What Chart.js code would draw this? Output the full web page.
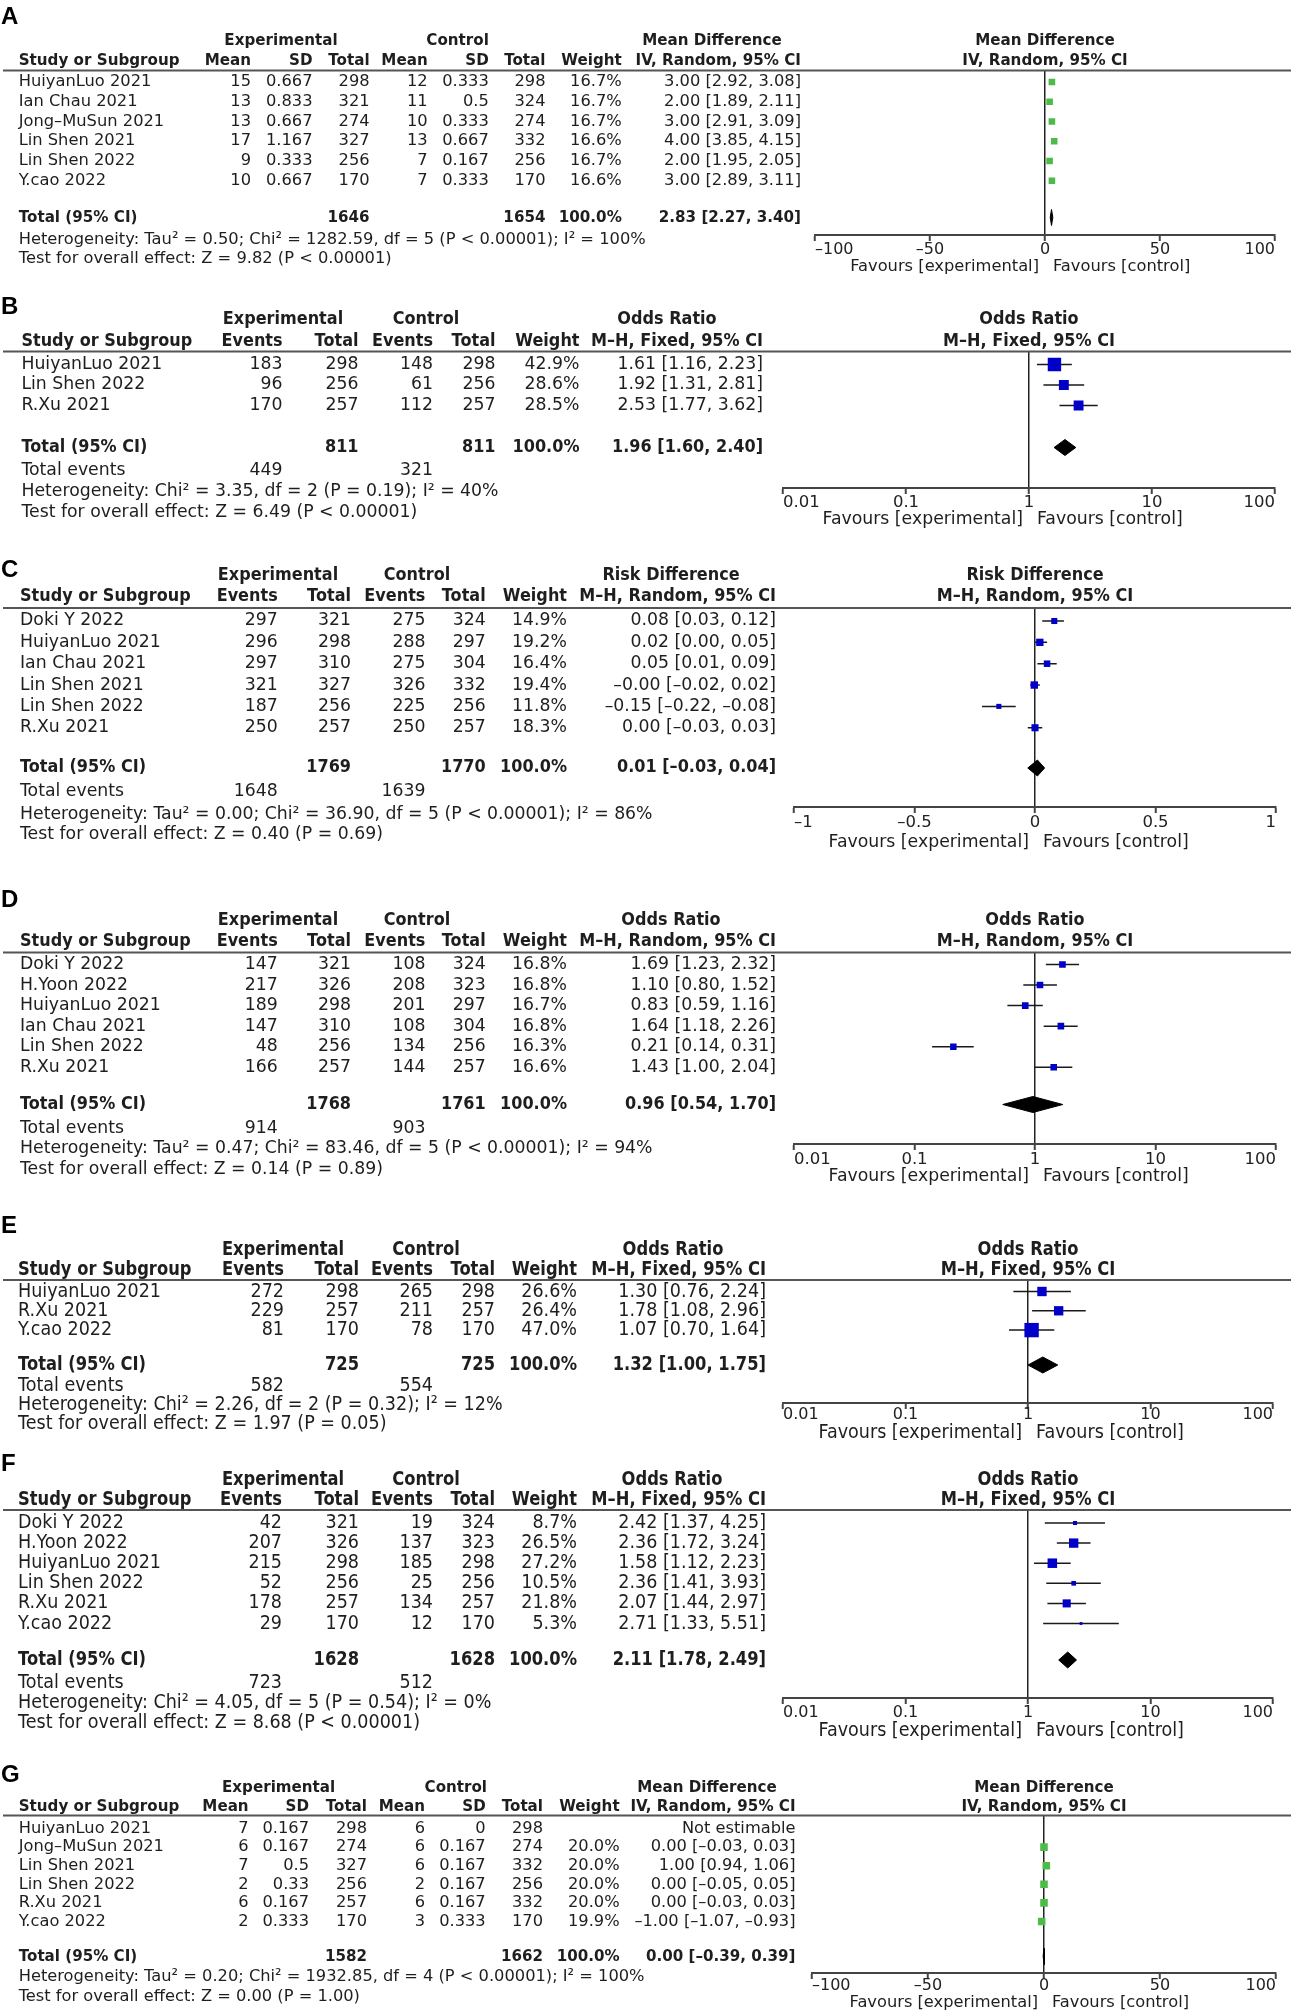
<!DOCTYPE html>
<html lang="en">
<head>
<meta charset="UTF-8">
<title>Forest plots A–G</title>
<script src="https://cdn.jsdelivr.net/npm/chart.js@4"></script>
<style>
  body { margin: 0; background: #fff; }
  #page { position: relative; width: 1299px; height: 2010px; background: #fff; overflow: hidden; }
  #page canvas { position: absolute; left: 0; }
</style>
</head>
<body>
<div id="page"></div>
<script>
// ---- tick labels ----
const mdTicks = [-100, -50, 0, 50, 100];
const orTicks = [0.01, 0.1, 1, 10, 100];
const rdTicks = [-1, -0.5, 0, 0.5, 1];

// ---- A: mean difference, IV random ----
const aStudy = ['HuiyanLuo 2021', 'Ian Chau 2021', 'Jong–MuSun 2021', 'Lin Shen 2021', 'Lin Shen 2022', 'Y.cao 2022'];
const aExpMean = [15, 13, 13, 17, 9, 10];
const aExpSD = [0.667, 0.833, 0.667, 1.167, 0.333, 0.667];
const aExpN = [298, 321, 274, 327, 256, 170];
const aCtlMean = [12, 11, 10, 13, 7, 7];
const aCtlSD = [0.333, 0.5, 0.333, 0.667, 0.167, 0.333];
const aCtlN = [298, 324, 274, 332, 256, 170];
const aWeight = [16.7, 16.7, 16.7, 16.6, 16.7, 16.6];
const aEst = [3.00, 2.00, 3.00, 4.00, 2.00, 3.00];
const aLo = [2.92, 1.89, 2.91, 3.85, 1.95, 2.89];
const aHi = [3.08, 2.11, 3.09, 4.15, 2.05, 3.11];
const aSums = [1646, 1654];
const aPooled = [2.83, 2.27, 3.40];
const aHet = 'Heterogeneity: Tau² = 0.50; Chi² = 1282.59, df = 5 (P < 0.00001); I² = 100%';
const aTest = 'Test for overall effect: Z = 9.82 (P < 0.00001)';

// ---- B: odds ratio, M-H fixed ----
const bStudy = ['HuiyanLuo 2021', 'Lin Shen 2022', 'R.Xu 2021'];
const bExpEv = [183, 96, 170];
const bExpN = [298, 256, 257];
const bCtlEv = [148, 61, 112];
const bCtlN = [298, 256, 257];
const bWeight = [42.9, 28.6, 28.5];
const bEst = [1.61, 1.92, 2.53];
const bLo = [1.16, 1.31, 1.77];
const bHi = [2.23, 2.81, 3.62];
const bSums = [811, 811];
const bEvents = [449, 321];
const bPooled = [1.96, 1.60, 2.40];
const bHet = 'Heterogeneity: Chi² = 3.35, df = 2 (P = 0.19); I² = 40%';
const bTest = 'Test for overall effect: Z = 6.49 (P < 0.00001)';

// ---- C: risk difference, M-H random ----
const cStudy = ['Doki Y 2022', 'HuiyanLuo 2021', 'Ian Chau 2021', 'Lin Shen 2021', 'Lin Shen 2022', 'R.Xu 2021'];
const cExpEv = [297, 296, 297, 321, 187, 250];
const cExpN = [321, 298, 310, 327, 256, 257];
const cCtlEv = [275, 288, 275, 326, 225, 250];
const cCtlN = [324, 297, 304, 332, 256, 257];
const cWeight = [14.9, 19.2, 16.4, 19.4, 11.8, 18.3];
const cEst = [0.08, 0.02, 0.05, -0.003, -0.15, 0.00];
const cLo = [0.03, 0.00, 0.01, -0.02, -0.22, -0.03];
const cHi = [0.12, 0.05, 0.09, 0.02, -0.08, 0.03];
const cSums = [1769, 1770];
const cEvents = [1648, 1639];
const cPooled = [0.01, -0.03, 0.04];
const cHet = 'Heterogeneity: Tau² = 0.00; Chi² = 36.90, df = 5 (P < 0.00001); I² = 86%';
const cTest = 'Test for overall effect: Z = 0.40 (P = 0.69)';

// ---- D: odds ratio, M-H random ----
const dStudy = ['Doki Y 2022', 'H.Yoon 2022', 'HuiyanLuo 2021', 'Ian Chau 2021', 'Lin Shen 2022', 'R.Xu 2021'];
const dExpEv = [147, 217, 189, 147, 48, 166];
const dExpN = [321, 326, 298, 310, 256, 257];
const dCtlEv = [108, 208, 201, 108, 134, 144];
const dCtlN = [324, 323, 297, 304, 256, 257];
const dWeight = [16.8, 16.8, 16.7, 16.8, 16.3, 16.6];
const dEst = [1.69, 1.10, 0.83, 1.64, 0.21, 1.43];
const dLo = [1.23, 0.80, 0.59, 1.18, 0.14, 1.00];
const dHi = [2.32, 1.52, 1.16, 2.26, 0.31, 2.04];
const dSums = [1768, 1761];
const dEvents = [914, 903];
const dPooled = [0.96, 0.54, 1.70];
const dHet = 'Heterogeneity: Tau² = 0.47; Chi² = 83.46, df = 5 (P < 0.00001); I² = 94%';
const dTest = 'Test for overall effect: Z = 0.14 (P = 0.89)';

// ---- E: odds ratio, M-H fixed ----
const eStudy = ['HuiyanLuo 2021', 'R.Xu 2021', 'Y.cao 2022'];
const eExpEv = [272, 229, 81];
const eExpN = [298, 257, 170];
const eCtlEv = [265, 211, 78];
const eCtlN = [298, 257, 170];
const eWeight = [26.6, 26.4, 47.0];
const eEst = [1.30, 1.78, 1.07];
const eLo = [0.76, 1.08, 0.70];
const eHi = [2.24, 2.96, 1.64];
const eSums = [725, 725];
const eEvents = [582, 554];
const ePooled = [1.32, 1.00, 1.75];
const eHet = 'Heterogeneity: Chi² = 2.26, df = 2 (P = 0.32); I² = 12%';
const eTest = 'Test for overall effect: Z = 1.97 (P = 0.05)';

// ---- F: odds ratio, M-H fixed ----
const fStudy = ['Doki Y 2022', 'H.Yoon 2022', 'HuiyanLuo 2021', 'Lin Shen 2022', 'R.Xu 2021', 'Y.cao 2022'];
const fExpEv = [42, 207, 215, 52, 178, 29];
const fExpN = [321, 326, 298, 256, 257, 170];
const fCtlEv = [19, 137, 185, 25, 134, 12];
const fCtlN = [324, 323, 298, 256, 257, 170];
const fWeight = [8.7, 26.5, 27.2, 10.5, 21.8, 5.3];
const fEst = [2.42, 2.36, 1.58, 2.36, 2.07, 2.71];
const fLo = [1.37, 1.72, 1.12, 1.41, 1.44, 1.33];
const fHi = [4.25, 3.24, 2.23, 3.93, 2.97, 5.51];
const fSums = [1628, 1628];
const fEvents = [723, 512];
const fPooled = [2.11, 1.78, 2.49];
const fHet = 'Heterogeneity: Chi² = 4.05, df = 5 (P = 0.54); I² = 0%';
const fTest = 'Test for overall effect: Z = 8.68 (P < 0.00001)';

// ---- G: mean difference, IV random ----
const gStudy = ['HuiyanLuo 2021', 'Jong–MuSun 2021', 'Lin Shen 2021', 'Lin Shen 2022', 'R.Xu 2021', 'Y.cao 2022'];
const gExpMean = [7, 6, 7, 2, 6, 2];
const gExpSD = [0.167, 0.167, 0.5, 0.33, 0.167, 0.333];
const gExpN = [298, 274, 327, 256, 257, 170];
const gCtlMean = [6, 6, 6, 2, 6, 3];
const gCtlSD = [0, 0.167, 0.167, 0.167, 0.167, 0.333];
const gCtlN = [298, 274, 332, 256, 332, 170];
const gWeight = [null, 20.0, 20.0, 20.0, 20.0, 19.9];
const gEst = [null, 0.00, 1.00, 0.00, 0.00, -1.00];
const gLo = [null, -0.03, 0.94, -0.05, -0.03, -1.07];
const gHi = [null, 0.03, 1.06, 0.05, 0.03, -0.93];
const gSums = [1582, 1662];
const gPooled = [0.00, -0.39, 0.39];
const gHet = 'Heterogeneity: Tau² = 0.20; Chi² = 1932.85, df = 4 (P < 0.00001); I² = 100%';
const gTest = 'Test for overall effect: Z = 0.00 (P = 1.00)';

Chart.defaults.font.family = '"DejaVu Sans", sans-serif';
Chart.defaults.color = '#222';

const W = 1299;
const GREEN = '#4cbb47', BLUE = '#0000c8';
const BOLD_SQUEEZE = 0.93; // DejaVu bold runs wider than the original bold face
const mdHdr = ['Mean', 'SD', 'Total', 'Mean', 'SD', 'Total'];
const dHdr = ['Events', 'Total', 'Events', 'Total'];
const mdCols = [251, 312.5, 369.6, 427.7, 488.8, 545.5];
const dCols = [282.6, 358.5, 433, 495.5];
const dCols2 = [277.7, 351, 425.4, 485.7];

const panels = [
  { id: 'A', top: 0, h: 290, font: 16.3, squeeze: 1, tickFont: 16,
    study: aStudy, cols: [aExpMean, aExpSD, aExpN, aCtlMean, aCtlSD, aCtlN], hdrs: mdHdr, nIdx: [2, 5],
    weight: aWeight, est: aEst, lo: aLo, hi: aHi, sums: aSums, events: null, pooled: aPooled, het: aHet, test: aTest,
    effName: 'Mean Difference', method: 'IV, Random, 95% CI', scale: 'linear', ticks: mdTicks, ref: 0, mark: GREEN,
    lay: { label: 17, hdr1: 40.5, hdr2: 60.5, line: 70.5, row0: 82, gap: 19.75, total: 217.5, events: null, het: 239.5, test: 258.5,
           axis: 235, fav: 266.5, tickPad: -1, axL: 815, axR: 1275, studyX: 18.7, colX: mdCols, wX: 621.8, effX: 801,
           expC: 281, ctlC: 457.6, effC: 712 } },
  { id: 'B', top: 290, h: 260, font: 17.3, squeeze: 1, tickFont: 16.5,
    study: bStudy, cols: [bExpEv, bExpN, bCtlEv, bCtlN], hdrs: dHdr, nIdx: [1, 3],
    weight: bWeight, est: bEst, lo: bLo, hi: bHi, sums: bSums, events: bEvents, pooled: bPooled, het: bHet, test: bTest,
    effName: 'Odds Ratio', method: 'M–H, Fixed, 95% CI', scale: 'logarithmic', ticks: orTicks, ref: 1, mark: BLUE,
    lay: { label: 17, hdr1: 29.5, hdr2: 51.5, line: 61.5, row0: 74.5, gap: 20.5, total: 157.5, events: 180.5, het: 202, test: 222.5,
           axis: 198, fav: 230, tickPad: -1, axL: 783, axR: 1275, studyX: 21.4, colX: dCols, wX: 579.5, effX: 763,
           expC: 283, ctlC: 426, effC: 667 } },
  { id: 'C', top: 550, h: 330, font: 17.3, squeeze: 1, tickFont: 16.5,
    study: cStudy, cols: [cExpEv, cExpN, cCtlEv, cCtlN], hdrs: dHdr, nIdx: [1, 3],
    weight: cWeight, est: cEst, lo: cLo, hi: cHi, sums: cSums, events: cEvents, pooled: cPooled, het: cHet, test: cTest,
    effName: 'Risk Difference', method: 'M–H, Random, 95% CI', scale: 'linear', ticks: rdTicks, ref: 0, mark: BLUE,
    lay: { label: 20, hdr1: 26, hdr2: 47, line: 58, row0: 71, gap: 21.35, total: 218, events: 241.5, het: 264.5, test: 284.5,
           axis: 257, fav: 293, tickPad: 0, axL: 794, axR: 1276, studyX: 20, colX: dCols2, wX: 567, effX: 776,
           expC: 278, ctlC: 417, effC: 671 } },
  { id: 'D', top: 880, h: 330, font: 17.3, squeeze: 1, tickFont: 16.5,
    study: dStudy, cols: [dExpEv, dExpN, dCtlEv, dCtlN], hdrs: dHdr, nIdx: [1, 3],
    weight: dWeight, est: dEst, lo: dLo, hi: dHi, sums: dSums, events: dEvents, pooled: dPooled, het: dHet, test: dTest,
    effName: 'Odds Ratio', method: 'M–H, Random, 95% CI', scale: 'logarithmic', ticks: orTicks, ref: 1, mark: BLUE,
    lay: { label: 20, hdr1: 40.5, hdr2: 61.5, line: 72.5, row0: 84.5, gap: 20.55, total: 224.5, events: 248.5, het: 268.5, test: 289.5,
           axis: 264, fav: 297, tickPad: 0, axL: 794, axR: 1276, studyX: 20, colX: dCols2, wX: 567, effX: 776,
           expC: 278, ctlC: 417, effC: 671 } },
  { id: 'E', top: 1210, h: 230, font: 19.5, squeeze: 0.9, tickFont: 16,
    study: eStudy, cols: [eExpEv, eExpN, eCtlEv, eCtlN], hdrs: dHdr, nIdx: [1, 3],
    weight: eWeight, est: eEst, lo: eLo, hi: eHi, sums: eSums, events: eEvents, pooled: ePooled, het: eHet, test: eTest,
    effName: 'Odds Ratio', method: 'M–H, Fixed, 95% CI', scale: 'logarithmic', ticks: orTicks, ref: 1, mark: BLUE,
    lay: { label: 16, hdr1: 40, hdr2: 60, line: 70, row0: 81.5, gap: 19.3, total: 155, events: 176, het: 195, test: 214,
           axis: 193, fav: 223, tickPad: -4, axL: 783, axR: 1273, studyX: 18, colX: [284, 359, 433, 495], wX: 577, effX: 766,
           expC: 283, ctlC: 426, effC: 673 } },
  { id: 'F', top: 1440, h: 320, font: 19.5, squeeze: 0.9, tickFont: 16,
    study: fStudy, cols: [fExpEv, fExpN, fCtlEv, fCtlN], hdrs: dHdr, nIdx: [1, 3],
    weight: fWeight, est: fEst, lo: fLo, hi: fHi, sums: fSums, events: fEvents, pooled: fPooled, het: fHet, test: fTest,
    effName: 'Odds Ratio', method: 'M–H, Fixed, 95% CI', scale: 'logarithmic', ticks: orTicks, ref: 1, mark: BLUE,
    lay: { label: 24, hdr1: 40, hdr2: 60, line: 70, row0: 83, gap: 20.1, total: 220, events: 243, het: 263, test: 283,
           axis: 258, fav: 291, tickPad: -1, axL: 783, axR: 1273, studyX: 18, colX: [282, 359, 433, 495], wX: 577, effX: 766,
           expC: 283, ctlC: 426, effC: 672 } },
  { id: 'G', top: 1760, h: 250, font: 16.25, squeeze: 1, tickFont: 16,
    study: gStudy, cols: [gExpMean, gExpSD, gExpN, gCtlMean, gCtlSD, gCtlN], hdrs: mdHdr, nIdx: [2, 5],
    weight: gWeight, est: gEst, lo: gLo, hi: gHi, sums: gSums, events: null, pooled: gPooled, het: gHet, test: gTest,
    effName: 'Mean Difference', method: 'IV, Random, 95% CI', scale: 'linear', ticks: mdTicks, ref: 0, mark: GREEN,
    lay: { label: 15, hdr1: 27.5, hdr2: 46.5, line: 55.5, row0: 68.5, gap: 18.6, total: 196.5, events: null, het: 216.5, test: 236.5,
           axis: 213, fav: 242.5, tickPad: -2.5, axL: 812, axR: 1276, studyX: 18.7, colX: [248.6, 309, 367, 425, 485.7, 543], wX: 619.6, effX: 795.5,
           expC: 278.6, ctlC: 455.8, effC: 707 } }
];

const fmt = v => v.toFixed(2).replace('-', '–');
const effText = (e, l, h) => e == null ? 'Not estimable' : fmt(e) + ' [' + fmt(l) + ', ' + fmt(h) + ']';
const pct = w => w == null ? '' : w.toFixed(1) + '%';

function drawTable(chart, P) {
  const ctx = chart.ctx, L = P.lay, xs = chart.scales.x, ys = chart.scales.y;
  const t = (s, x, y, align, bold) => {
    ctx.save();
    ctx.font = (bold ? 'bold ' : '') + P.font + 'px "DejaVu Sans"';
    ctx.fillStyle = '#1e1e1e';
    ctx.textAlign = align;
    ctx.textBaseline = 'middle';
    ctx.translate(x, y);
    ctx.scale(P.squeeze * (bold ? BOLD_SQUEEZE : 1), 1);
    ctx.fillText(s, 0, 0);
    ctx.restore();
  };
  // panel letter
  ctx.save();
  ctx.font = 'bold 24px "Liberation Sans"';
  ctx.fillStyle = '#000';
  ctx.textBaseline = 'middle';
  ctx.fillText(P.id, 1, L.label);
  ctx.restore();

  const zero = xs.getPixelForValue(P.ref);
  t('Experimental', L.expC, L.hdr1, 'center', true);
  t('Control', L.ctlC, L.hdr1, 'center', true);
  t(P.effName, L.effC, L.hdr1, 'center', true);
  t(P.effName, zero, L.hdr1, 'center', true);
  t('Study or Subgroup', L.studyX, L.hdr2, 'left', true);
  P.hdrs.forEach((h, j) => t(h, L.colX[j], L.hdr2, 'right', true));
  t('Weight', L.wX, L.hdr2, 'right', true);
  t(P.method, L.effX, L.hdr2, 'right', true);
  t(P.method, zero, L.hdr2, 'center', true);

  ctx.save();
  ctx.strokeStyle = '#555';
  ctx.lineWidth = 2;
  ctx.beginPath();
  ctx.moveTo(3, L.line);
  ctx.lineTo(1291, L.line);
  ctx.stroke();
  ctx.restore();

  P.study.forEach((s, i) => {
    const y = ys.getPixelForValue(i);
    t(s, L.studyX, y, 'left');
    P.cols.forEach((c, j) => t(String(c[i]), L.colX[j], y, 'right'));
    t(pct(P.weight[i]), L.wX, y, 'right');
    t(effText(P.est[i], P.lo[i], P.hi[i]), L.effX, y, 'right');
  });

  const yt = ys.getPixelForValue((L.total - L.row0) / L.gap);
  t('Total (95% CI)', L.studyX, yt, 'left', true);
  t(String(P.sums[0]), L.colX[P.nIdx[0]], yt, 'right', true);
  t(String(P.sums[1]), L.colX[P.nIdx[1]], yt, 'right', true);
  t('100.0%', L.wX, yt, 'right', true);
  t(effText(P.pooled[0], P.pooled[1], P.pooled[2]), L.effX, yt, 'right', true);

  if (P.events) {
    t('Total events', L.studyX, L.events, 'left');
    t(String(P.events[0]), L.colX[0], L.events, 'right');
    t(String(P.events[1]), L.colX[2], L.events, 'right');
  }
  t(P.het, L.studyX, L.het, 'left');
  t(P.test, L.studyX, L.test, 'left');

  t('Favours [experimental]', zero - 6, L.fav, 'right');
  t('Favours [control]', zero + 8, L.fav, 'left');
}

const page = document.getElementById('page');

panels.forEach(P => {
  const L = P.lay;
  const canvas = document.createElement('canvas');
  canvas.width = W;
  canvas.height = P.h;
  canvas.style.top = P.top + 'px';
  canvas.style.width = W + 'px';
  canvas.style.height = P.h + 'px';
  page.appendChild(canvas);

  const yMin = (L.line - L.row0) / L.gap;
  const yMax = (L.axis - L.row0) / L.gap;
  const ti = (L.total - L.row0) / L.gap;
  const dh = 8 / L.gap;

  const squares = P.est.map((e, i) => ({ x: e == null ? NaN : e, y: e == null ? NaN : i }));
  const sides = P.weight.map(w => w == null ? 0 : 0.8 * Math.pow(w, 0.75));
  const ci = P.est.flatMap((e, i) => e == null ? [] :
    [{ x: P.lo[i], y: i }, { x: P.hi[i], y: i }, { x: NaN, y: NaN }]);
  const [pe, pl, ph] = P.pooled;
  const diamond = [{ x: pl, y: ti }, { x: pe, y: ti - dh }, { x: ph, y: ti }, { x: pe, y: ti + dh }, { x: pl, y: ti }];

  new Chart(canvas, {
    type: 'scatter',
    data: {
      datasets: [
        { data: squares, order: 0, pointStyle: 'rect',
          pointRadius: sides.map(s => s / Math.SQRT2), pointHoverRadius: sides.map(s => s / Math.SQRT2),
          pointBackgroundColor: P.mark, pointBorderColor: P.mark, pointBorderWidth: 0 },
        { type: 'line', data: ci, order: 1, borderColor: '#1a1a1a', borderWidth: 1.5,
          pointRadius: 0, spanGaps: false, tension: 0, fill: false },
        { type: 'line', data: diamond, order: 2, borderColor: '#000', backgroundColor: '#000', borderWidth: 1,
          pointRadius: 0, tension: 0, fill: 'shape' }
      ]
    },
    options: {
      responsive: false,
      animation: false,
      events: [],
      layout: {
        autoPadding: false,
        padding: { left: L.axL, right: W - L.axR, top: L.line, bottom: P.h - L.axis - 30 }
      },
      scales: {
        x: {
          type: P.scale,
          min: P.ticks[0],
          max: P.ticks[P.ticks.length - 1],
          afterBuildTicks: s => { s.ticks = P.ticks.map(v => ({ value: v })); },
          afterFit: s => { s.height = 30; },
          border: { display: true, color: '#444', width: 2 },
          grid: {
            drawOnChartArea: true, drawTicks: true, tickLength: 6, tickWidth: 2, tickColor: '#444',
            lineWidth: 1.5,
            color: c => (c.tick && c.tick.value === P.ref) ? '#222' : 'rgba(0,0,0,0)'
          },
          ticks: {
            align: 'inner', autoSkip: false, maxRotation: 0, padding: L.tickPad, color: '#222',
            font: { size: P.tickFont },
            callback: v => String(v).replace('-', '–')
          }
        },
        y: { type: 'linear', reverse: true, min: yMin, max: yMax, display: false }
      },
      plugins: { legend: { display: false }, tooltip: { enabled: false } }
    },
    plugins: [{ id: 'table' + P.id, afterDraw: chart => drawTable(chart, P) }]
  });
});
</script>
</body>
</html>
